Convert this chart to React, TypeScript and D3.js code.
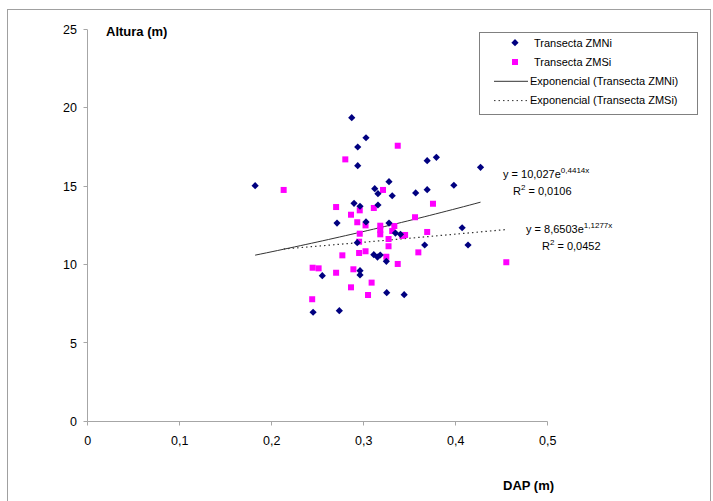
import React from 'react';
import * as d3 from 'd3';

// DAP (m) vs Altura (m)
const zmniDap = [0.182, 0.287, 0.3025, 0.2935, 0.2935, 0.369, 0.379, 0.427, 0.3275, 0.312,
  0.3155, 0.331, 0.3565, 0.369, 0.398, 0.2895, 0.296, 0.3155, 0.271, 0.3025,
  0.3275, 0.407, 0.3345, 0.34, 0.293, 0.3663, 0.4134, 0.311, 0.315, 0.318,
  0.3246, 0.296, 0.296, 0.255, 0.325, 0.344, 0.245, 0.2735];
const zmniAltura = [15.05, 19.39, 18.11, 17.52, 16.33, 16.65, 16.86, 16.22, 15.31, 14.86,
  14.54, 14.41, 14.59, 14.8, 15.08, 13.93, 13.74, 13.82, 12.67, 12.74,
  12.67, 12.37, 12.03, 11.95, 11.42, 11.27, 11.27, 10.65, 10.5, 10.63,
  10.23, 9.63, 9.36, 9.31, 8.23, 8.1, 6.98, 7.08];

const zmsiDap = [0.213, 0.28, 0.337, 0.321, 0.3753, 0.27, 0.311, 0.2862, 0.2957, 0.293,
  0.302, 0.318, 0.318, 0.318, 0.3333, 0.331, 0.3558, 0.369, 0.345, 0.2957,
  0.295, 0.327, 0.327, 0.2768, 0.295, 0.302, 0.3246, 0.3594, 0.337, 0.455,
  0.27, 0.2888, 0.3086, 0.2862, 0.3047, 0.2445, 0.251, 0.244, 0.342];
const zmsiAltura = [14.78, 16.73, 17.6, 14.78, 13.9, 13.69, 13.63, 13.2, 13.48, 12.72,
  12.52, 12.5, 12.23, 11.95, 12.48, 12.16, 13.04, 12.1, 11.91, 11.99,
  11.48, 11.65, 11.19, 10.61, 10.76, 10.87, 10.52, 10.8, 10.06, 10.17,
  9.5, 9.72, 8.87, 8.57, 8.08, 9.82, 9.78, 7.81, 11.85];

const xTicks = [0, 0.1, 0.2, 0.3, 0.4, 0.5];
const yTicks = [0, 5, 10, 15, 20, 25];

// exponential fits as drawn (solid over ZMNi range, dotted over ZMSi range)
const fitSolid = { a: 8.6503, b: 1.1277 };
const fitDotted = { a: 10.027, b: 0.4414 };

const legendItems = [
  'Transecta ZMNi',
  'Transecta ZMSi',
  'Exponencial (Transecta ZMNi)',
  'Exponencial (Transecta ZMSi)',
];

const W = 713, H = 501;
const font = '"Liberation Sans", Arial, sans-serif';
const navy = '#000080';
const pink = '#ff00ff';
const axisCol = '#a6a6a6';
// square diamond like excel's marker
const diamond = 'M0,-3.6L3.6,0L0,3.6L-3.6,0Z';

export default function App() {
  const x = d3.scaleLinear().domain([0, 0.5]).range([87.7, 547.7]);
  const y = d3.scaleLinear().domain([0, 25]).range([421.7, 29.7]);

  const fitPath = (fit: { a: number; b: number }, xs: number[]) => {
    const [lo, hi] = d3.extent(xs) as [number, number];
    const pts = d3.range(0, 41).map(i => lo + (hi - lo) * i / 40);
    return d3.line<number>().x(d => x(d)).y(d => y(fit.a * Math.exp(fit.b * d)))(pts) || '';
  };

  const x0 = Math.round(x(0)) - 0.5;
  const yBase = Math.round(y(0)) - 0.5;

  return (
    <svg width={W} height={H} style={{ position: 'absolute', left: 0, top: 0, background: '#fff' }}
      fontFamily={font}>
      <rect x={7.5} y={9.5} width={703} height={500} fill="#fff" stroke="#a0a0a0" />

      {/* axes */}
      <line x1={x0} x2={x0} y1={y(25)} y2={yBase} stroke={axisCol} />
      <line x1={x0} x2={Math.round(x(0.5)) - 0.5} y1={yBase} y2={yBase} stroke={axisCol} />
      {yTicks.map(t => (
        <g key={'y' + t}>
          <line x1={x0 - 4} x2={x0} y1={Math.round(y(t)) - 0.5} y2={Math.round(y(t)) - 0.5} stroke={axisCol} />
          <text x={77} y={y(t)} dy="0.35em" textAnchor="end" fontSize={12.5} fill="#000">{t}</text>
        </g>
      ))}
      {xTicks.map(t => (
        <g key={'x' + t}>
          <line x1={Math.round(x(t)) - 0.5} x2={Math.round(x(t)) - 0.5} y1={yBase} y2={yBase + 4} stroke={axisCol} />
          <text x={x(t)} y={445} textAnchor="middle" fontSize={12.5} fill="#000">
            {String(t).replace('.', ',')}
          </text>
        </g>
      ))}

      <text x={106} y={36} fontSize={13} fontWeight="bold">Altura (m)</text>
      <text x={503} y={490} fontSize={13} fontWeight="bold">DAP (m)</text>

      {/* trend lines */}
      <path d={fitPath(fitSolid, zmniDap)} fill="none" stroke="#333" strokeWidth={1} />
      <path d={fitPath(fitDotted, zmsiDap)} fill="none" stroke="#333" strokeWidth={1.2} strokeDasharray="1.5,3" />

      {/* points */}
      {zmsiDap.map((d, i) => (
        <rect key={'s' + i} x={x(d) - 3} y={y(zmsiAltura[i]) - 3} width={6} height={6} fill={pink} />
      ))}
      {zmniDap.map((d, i) => (
        <path key={'n' + i} d={diamond} transform={`translate(${x(d)},${y(zmniAltura[i])})`} fill={navy} />
      ))}

      {/* equations */}
      <text x={503} y={178} fontSize={11}>
        y = 10,027e<tspan dy={-5} fontSize={8}>0,4414x</tspan>
      </text>
      <text x={513} y={195} fontSize={11}>
        R<tspan dy={-5} fontSize={8}>2</tspan><tspan dy={5}> = 0,0106</tspan>
      </text>
      <text x={526} y={233} fontSize={11}>
        y = 8,6503e<tspan dy={-5} fontSize={8}>1,1277x</tspan>
      </text>
      <text x={542} y={250} fontSize={11}>
        R<tspan dy={-5} fontSize={8}>2</tspan><tspan dy={5}> = 0,0452</tspan>
      </text>

      {/* legend */}
      <rect x={479.5} y={32.5} width={218} height={82} fill="#fff" stroke="#808080" />
      {legendItems.map((name, i) => {
        const cy = 42.7 + i * 19.3;
        return (
          <g key={name}>
            {i === 0 && <path d={diamond} transform={`translate(515,${cy})`} fill={navy} />}
            {i === 1 && <rect x={512} y={cy - 3} width={6} height={6} fill={pink} />}
            {i === 2 && <line x1={494} x2={528} y1={cy} y2={cy} stroke="#333" />}
            {i === 3 && <line x1={494} x2={528} y1={cy} y2={cy} stroke="#333" strokeDasharray="1.5,3" />}
            <text x={i < 2 ? 534 : 530} y={cy} dy="0.35em" fontSize={11}>{name}</text>
          </g>
        );
      })}
    </svg>
  );
}
